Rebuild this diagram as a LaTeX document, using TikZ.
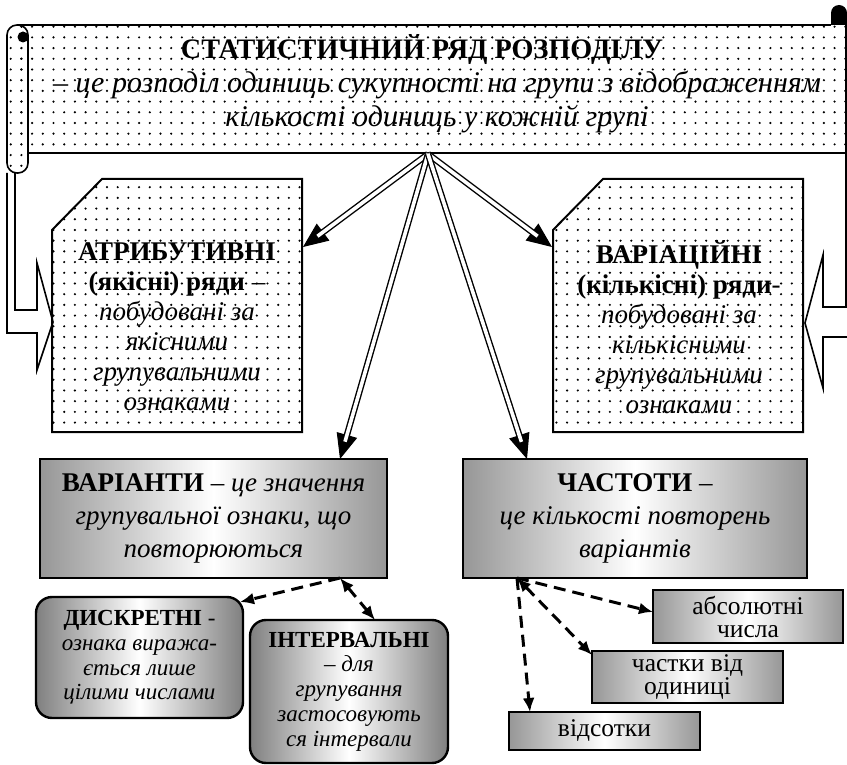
\documentclass[tikz,border=0pt]{standalone}
\usepackage{fontspec}
\setmainfont{Liberation Serif}
\usetikzlibrary{patterns.meta,arrows.meta}
\newcommand\fbig{\fontsize{27}{30}\selectfont}
\newcommand\fgbox{\fontsize{27}{33}\selectfont}
\newcommand\fmid{\fontsize{23}{24.7}\selectfont}
\newcommand\fsml{\fontsize{25.5}{23}\selectfont}
\newcommand\ftitle{\fontsize{28.2}{34}\selectfont}
\newcommand\fsub{\fontsize{30}{34}\selectfont}
\begin{document}
\begin{tikzpicture}[x=1pt,y=-1pt,
 dotfill/.style={pattern={Dots[distance=10.7pt,radius=1.2pt]},pattern color=black},
 outl/.style={line width=1.6pt},
 dblline/.style={line width=1.4pt, double=white, double distance=3.6pt, shorten >=18pt},
 dbltip/.style={line width=1pt, -{Triangle[length=25pt,width=21pt]}},
 dsh/.style={line width=3pt, dash pattern=on 12pt off 7pt, -{Latex[length=14pt,width=12pt]}},
 dshb/.style={dsh, {Latex[length=14pt,width=12pt]}-{Latex[length=14pt,width=12pt]}},
 txt/.style={inner sep=0pt, align=center},
 gbox/.style={draw, line width=1.8pt, left color=gray!82, right color=gray!82, middle color=white, inner sep=0pt, align=center},
 rbox/.style={gbox, rounded corners=16pt, line width=2.4pt, left color=gray!100, right color=gray!100, middle color=white},
]
\useasboundingbox (0,0) rectangle (847,765);

% scroll body
\path[dotfill] (17,25) rectangle (846,153);
\draw[outl,dotfill,rounded corners=10pt] (7,25) rectangle (28,173);
\draw[outl] (17,25) -- (831,25);
\fill (831,25) -- (831,13) arc[start angle=180,end angle=360,radius=8] -- (847,25) -- cycle;
\fill (23,37) circle (5.5);

% left block arrow
\draw[outl] (7,173) -- (7,333) -- (37,333) -- (37,370) -- (53,322) -- (37,263) -- (37,310) -- (15,310) -- (15,173);
% scroll bottom edge and right block arrow
\draw[outl] (28,153) -- (846,153);
\draw[outl] (846,20) -- (846,307) -- (823,307) -- (823,255) -- (805,323) -- (823,388) -- (823,337) -- (847,337);

% chamfered boxes
\draw[line width=2pt,dotfill] (102,179) -- (302,179) -- (302,432) -- (52,432) -- (52,230) -- cycle;
\draw[line width=2pt,dotfill] (603,179) -- (803,179) -- (803,432) -- (553,432) -- (553,230) -- cycle;

% texts
\node[txt, font=\fsub] (title) at (437,84)
 {{\ftitle\hspace*{-30pt}\textbf{СТАТИСТИЧНИЙ РЯД РОЗПОДІЛУ}}\\ \textit{– це розподіл одиниць сукупності на групи з відображенням}\\ \textit{кількості одиниць у кожній групі}};
\node[txt, font=\fbig] (attr) at (177,327)
 {\textbf{АТРИБУТИВНІ}\\ \textbf{(якісні) ряди} –\\ \textit{побудовані за}\\ \textit{якісними}\\ \textit{групувальними}\\ \textit{ознаками}};
\node[txt, font=\fbig] (vari) at (679,327)
 {\textbf{ВАРІАЦІЙНІ}\\ \textbf{(кількісні) ряди}-\\ \textit{побудовані за}\\ \textit{кількісними}\\ \textit{групувальними}\\ \textit{ознаками}};

\node[gbox, font=\fgbox, minimum width=347pt, minimum height=119pt] (var) at (213.5,518.5)
 {\textbf{ВАРІАНТИ} \textit{– це значення}\\ \textit{групувальної ознаки, що}\\ \textit{повторюються}};
\node[gbox, font=\fgbox, minimum width=344pt, minimum height=119pt] (chast) at (635,518.5)
 {\textbf{ЧАСТОТИ} –\\ \textit{це кількості повторень}\\ \textit{варіантів}};

\node[rbox, font=\fmid, minimum width=207pt, minimum height=121pt] (disk) at (139.5,657.5)
 {\textbf{ДИСКРЕТНІ} -\\ \textit{ознака виража-}\\ \textit{ється лише}\\ \textit{цілими числами}};
\node[rbox, font=\fmid, minimum width=198pt, minimum height=143pt] (interv) at (349,691.5)
 {\textbf{ІНТЕРВАЛЬНІ}\\ \textit{– для}\\ \textit{групування}\\ \textit{застосовують}\\ \textit{ся інтервали}};

\node[gbox, font=\fsml, minimum width=190pt, minimum height=53pt] (abs) at (748,616.5) {абсолютні\\числа};
\node[gbox, font=\fsml, minimum width=191pt, minimum height=52pt] (part) at (687.5,677) {частки від\\одиниці};
\node[gbox, font=\fsml, minimum width=191pt, minimum height=38pt] (pct) at (604.5,731) {відсотки};

% connector points
\coordinate (apex) at (428,154);
\coordinate (attrIn) at (303,247);
\coordinate (variIn) at (552,247);
\coordinate (varIn) at (340,459);
\coordinate (chastIn) at (527,459);
\coordinate (varOut) at (340,578);
\coordinate (chastOut) at (517,578);
\coordinate (diskIn) at (240,602);
\coordinate (intIn) at (375,620);
\coordinate (absIn) at (653,612);
\coordinate (partIn) at (592,655);
\coordinate (pctIn) at (530,712);

\foreach \t in {attrIn,variIn,varIn,chastIn}{
  \draw[dbltip] (apex) -- (\t);
  \draw[dblline] (apex) -- (\t);
}

\draw[dsh] (varOut) -- (diskIn);
\draw[dshb] (varOut) -- (intIn);
\draw[dsh] (chastOut) -- (absIn);
\draw[dshb] (chastOut) -- (partIn);
\draw[dsh] (chastOut) -- (pctIn);
\end{tikzpicture}
\end{document}
